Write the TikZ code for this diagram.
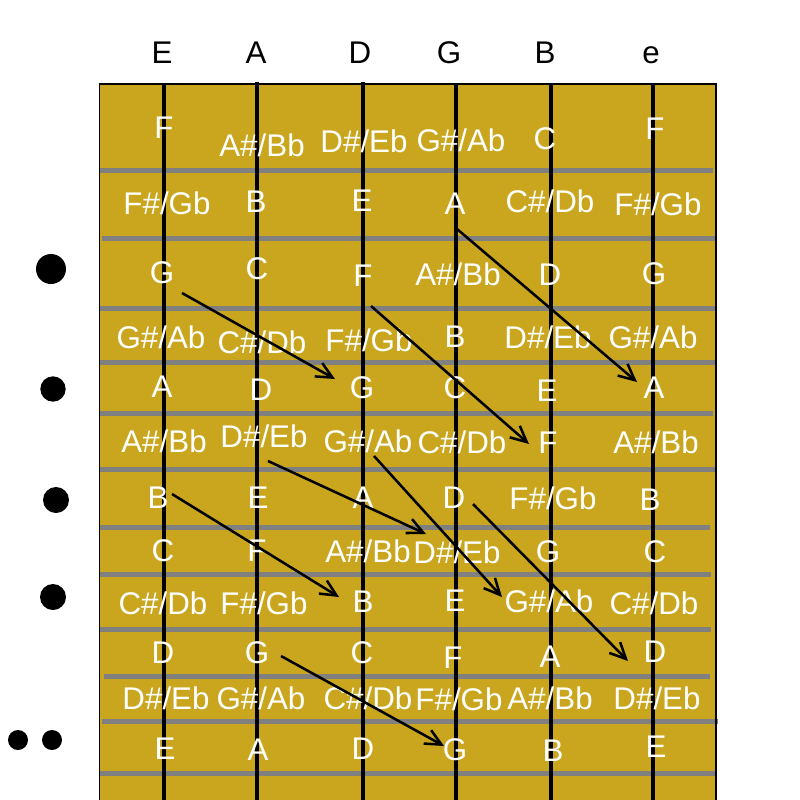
\documentclass[tikz,border=0pt]{standalone}
\usepackage{fontspec}
\setmainfont{Liberation Sans}
\usetikzlibrary{arrows.meta}
\definecolor{board}{RGB}{201,166,30}
\definecolor{fretgray}{RGB}{128,128,128}
\begin{document}
\begin{tikzpicture}[x=0.75pt,y=-0.75pt,
  note/.style={text=white,font=\fontsize{23.5}{23.5}\selectfont,anchor=base,inner sep=0pt},
  head/.style={text=black,font=\fontsize{23.5}{23.5}\selectfont,anchor=base,inner sep=0pt},
  fretline/.style={draw=fretgray,line width=3.75pt},
  stringline/.style={draw=black,line width=3pt},
  arr/.style={draw=black,line width=1.9pt,-{Straight Barb[length=12pt,width=11.5pt]}},
  dot/.style={circle,fill=black,inner sep=0pt}]
\useasboundingbox (0,0) rectangle (800,800);
% board
\fill[board] (99,84) rectangle (716,810);
% frets
\draw[fretline] (100,170) -- (713,170);
\draw[fretline] (102,238) -- (715,238);
\draw[fretline] (100,308) -- (715,308);
\draw[fretline] (100,362) -- (717,362);
\draw[fretline] (100,413) -- (713,413);
\draw[fretline] (100,469) -- (716,469);
\draw[fretline] (100,527) -- (710,527);
\draw[fretline] (100,574) -- (711,574);
\draw[fretline] (100,629) -- (711,629);
\draw[fretline] (104,676) -- (710,676);
\draw[fretline] (102,721) -- (718,721);
\draw[fretline] (99,773) -- (716,773);
% strings
\draw[stringline] (164,84) -- (164,810);
\draw[stringline] (257,82) -- (257,810);
\draw[stringline] (363,82) -- (363,810);
\draw[stringline] (456,84) -- (456,810);
\draw[stringline] (551,84) -- (551,810);
\draw[stringline] (653,84) -- (653,810);
% border
\draw[black,line width=1.2pt] (99.5,810) -- (99.5,84);
\draw[black,line width=2.2pt] (98.5,84) -- (716,84) -- (716,810);
% headers
\node[head] (hE) at (162,63) {E};
\node[head] (hA) at (256,63) {A};
\node[head] (hD) at (360,63) {D};
\node[head] (hG) at (449,63) {G};
\node[head] (hB) at (545,63) {B};
\node[head] (he) at (651,63) {e};
% dots
\node[dot,minimum size=22.5pt] (d1) at (51,269) {};
\node[dot,minimum size=19pt] (d2) at (53,389) {};
\node[dot,minimum size=19.5pt] (d3) at (56,500) {};
\node[dot,minimum size=19.5pt] (d4) at (53,597) {};
\node[dot,minimum size=15pt] (d5) at (18,740) {};
\node[dot,minimum size=15pt] (d6) at (52,740) {};
% row 1
\node[note] (n1a) at (164,138) {F};
\node[note] (n1b) at (262,156) {A\#/Bb};
\node[note] (n1c) at (364,152) {D\#/Eb};
\node[note] (n1d) at (461,151) {G\#/Ab};
\node[note] (n1e) at (545,149) {C};
\node[note] (n1f) at (655,139) {F};
% row 2
\node[note] (n2a) at (167,214) {F\#/Gb};
\node[note] (n2b) at (256,212) {B};
\node[note] (n2c) at (362,211) {E};
\node[note] (n2d) at (455,214) {A};
\node[note] (n2e) at (550,212) {C\#/Db};
\node[note] (n2f) at (658,215) {F\#/Gb};
% row 3
\node[note] (n3a) at (162,283) {G};
\node[note] (n3b) at (257,279) {C};
\node[note] (n3c) at (363,286) {F};
\node[note] (n3d) at (458,285) {A\#/Bb};
\node[note] (n3e) at (550,285) {D};
\node[note] (n3f) at (654,284) {G};
% row 4
\node[note] (n4a) at (161,348) {G\#/Ab};
\node[note] (n4b) at (262,353) {C\#/Db};
\node[note] (n4c) at (369,351) {F\#/Gb};
\node[note] (n4d) at (455,347) {B};
\node[note] (n4e) at (548,348) {D\#/Eb};
\node[note] (n4f) at (653,348) {G\#/Ab};
% row 5
\node[note] (n5a) at (162,397) {A};
\node[note] (n5b) at (261,400) {D};
\node[note] (n5c) at (362,398) {G};
\node[note] (n5d) at (455,398) {C};
\node[note] (n5e) at (547,401) {E};
\node[note] (n5f) at (654,398) {A};
% row 6
\node[note] (n6a) at (164,452) {A\#/Bb};
\node[note] (n6b) at (264,447) {D\#/Eb};
\node[note] (n6c) at (368,452) {G\#/Ab};
\node[note] (n6d) at (462,453) {C\#/Db};
\node[note] (n6e) at (548,453) {F};
\node[note] (n6f) at (656,453) {A\#/Bb};
% row 7
\node[note] (n7a) at (158,508) {B};
\node[note] (n7b) at (258,508) {E};
\node[note] (n7c) at (363,508) {A};
\node[note] (n7d) at (454,508) {D};
\node[note] (n7e) at (553,509) {F\#/Gb};
\node[note] (n7f) at (650,510) {B};
% row 8
\node[note] (n8a) at (163,561) {C};
\node[note] (n8b) at (257,561) {F};
\node[note] (n8c) at (368,562) {A\#/Bb};
\node[note] (n8d) at (457,563) {D\#/Eb};
\node[note] (n8e) at (548,562) {G};
\node[note] (n8f) at (655,562) {C};
% row 9
\node[note] (n9a) at (163,614) {C\#/Db};
\node[note] (n9b) at (264,614) {F\#/Gb};
\node[note] (n9c) at (363,612) {B};
\node[note] (n9d) at (455,611) {E};
\node[note] (n9e) at (549,612) {G\#/Ab};
\node[note] (n9f) at (654,614) {C\#/Db};
% row 10
\node[note] (n10a) at (163,663) {D};
\node[note] (n10b) at (257,663) {G};
\node[note] (n10c) at (362,663) {C};
\node[note] (n10d) at (453,668) {F};
\node[note] (n10e) at (550,667) {A};
\node[note] (n10f) at (655,662) {D};
% row 11
\node[note] (n11a) at (166,709) {D\#/Eb};
\node[note] (n11b) at (261,709) {G\#/Ab};
\node[note] (n11c) at (368,709) {C\#/Db};
\node[note] (n11d) at (459,710) {F\#/Gb};
\node[note] (n11e) at (550,709) {A\#/Bb};
\node[note] (n11f) at (657,709) {D\#/Eb};
% row 12
\node[note] (n12a) at (165,759) {E};
\node[note] (n12b) at (258,760) {A};
\node[note] (n12c) at (363,759) {D};
\node[note] (n12d) at (455,760) {G};
\node[note] (n12e) at (553,761) {B};
\node[note] (n12f) at (656,757) {E};
% arrows
\coordinate (a1s) at (182,293); \coordinate (a1e) at (335,379);
\coordinate (a2s) at (371,306); \coordinate (a2e) at (529,444);
\coordinate (a3s) at (457,229); \coordinate (a3e) at (637,382);
\coordinate (a4s) at (268,461); \coordinate (a4e) at (426,534);
\coordinate (a5s) at (374,456); \coordinate (a5e) at (502,597);
\coordinate (a6s) at (172,494); \coordinate (a6e) at (339,597);
\coordinate (a7s) at (473,504); \coordinate (a7e) at (628,661);
\coordinate (a8s) at (281,656); \coordinate (a8e) at (444,746);
\draw[arr] (a1s) -- (a1e);
\draw[arr] (a2s) -- (a2e);
\draw[arr] (a3s) -- (a3e);
\draw[arr] (a4s) -- (a4e);
\draw[arr] (a5s) -- (a5e);
\draw[arr] (a6s) -- (a6e);
\draw[arr] (a7s) -- (a7e);
\draw[arr] (a8s) -- (a8e);
\end{tikzpicture}
\end{document}
